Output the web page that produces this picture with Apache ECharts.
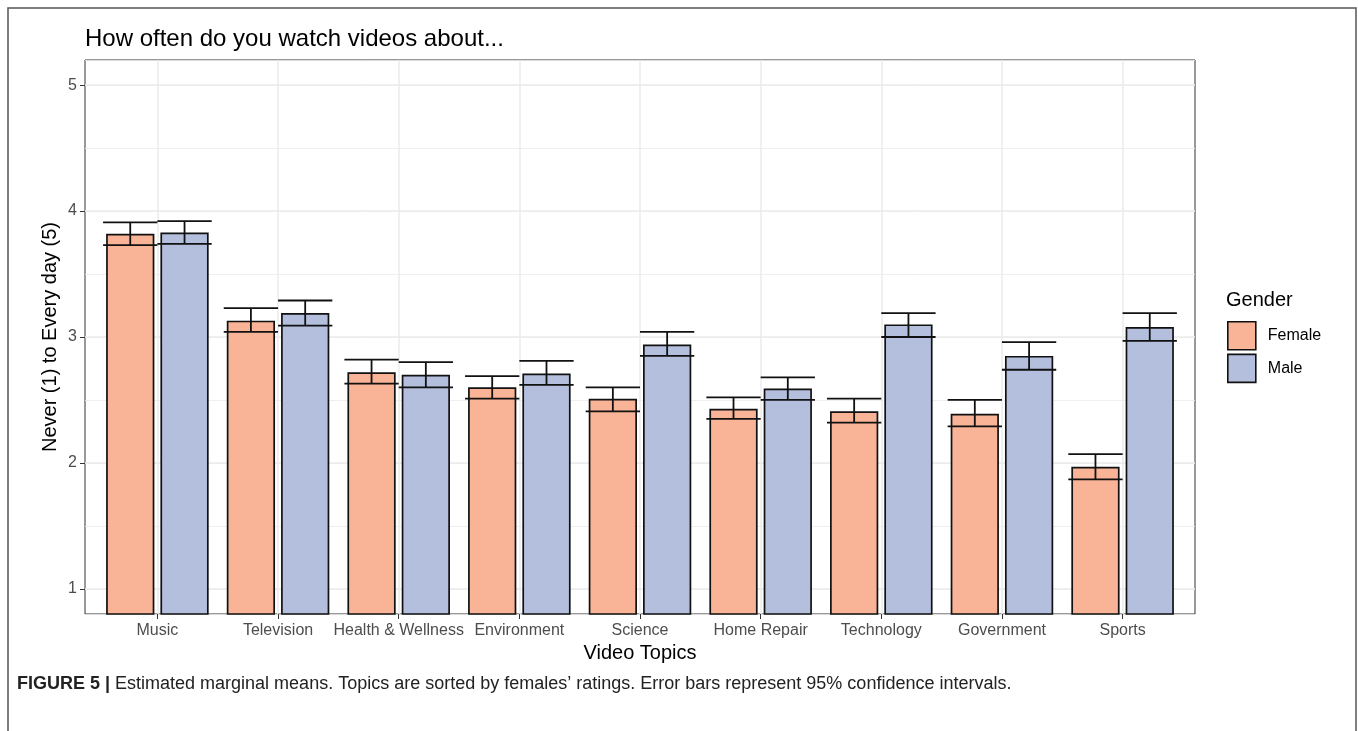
<!DOCTYPE html>
<html>
<head>
<meta charset="utf-8">
<script src="https://cdn.jsdelivr.net/npm/echarts@6/dist/echarts.min.js"></script>
<style>
  html, body { margin: 0; padding: 0; background: #fff; }
  #chart { width: 1358px; height: 731px; }
</style>
</head>
<body>
<div id="chart"></div>
<script>
// Estimated marginal means (1 = Never, 5 = Every day) with 95% CIs, by gender
const topics = ['Music', 'Television', 'Health & Wellness', 'Environment', 'Science',
                'Home Repair', 'Technology', 'Government', 'Sports'];
const femaleMean = [3.82, 3.13, 2.72, 2.60, 2.51, 2.43, 2.41, 2.39, 1.97];
const femaleLow  = [3.73, 3.04, 2.63, 2.51, 2.41, 2.35, 2.32, 2.29, 1.87];
const femaleHigh = [3.91, 3.23, 2.82, 2.69, 2.60, 2.52, 2.51, 2.50, 2.07];
const maleMean   = [3.83, 3.19, 2.70, 2.71, 2.94, 2.59, 3.10, 2.85, 3.08];
const maleLow    = [3.74, 3.09, 2.60, 2.62, 2.85, 2.50, 3.00, 2.74, 2.97];
const maleHigh   = [3.92, 3.29, 2.80, 2.81, 3.04, 2.68, 3.19, 2.96, 3.19];
const yTicks = [1, 2, 3, 4, 5];

const FONT = 'Liberation Sans, Arial, Helvetica, sans-serif';
const FEMALE_FILL = '#F9B396';
const MALE_FILL = '#B3BFDD';

// Panel geometry: discrete axis padded by 0.6 of a category on each side
const panel = { left: 85, top: 60, width: 1110, height: 554 };
const band = panel.width / (topics.length + 0.2);
const barGrid = {
  left: panel.left + 0.1 * band,
  top: panel.top,
  width: band * topics.length,
  height: panel.height
};

// error-bar rows: [category index, low, high, group(0 female / 1 male)]
const errRows = [];
topics.forEach((t, i) => {
  errRows.push([i, femaleLow[i], femaleHigh[i], 0]);
  errRows.push([i, maleLow[i], maleHigh[i], 1]);
});

const chart = echarts.init(document.getElementById('chart'), null, { renderer: 'canvas' });

chart.setOption({
  animation: false,
  backgroundColor: '#ffffff',
  textStyle: { fontFamily: FONT },
  title: [
    {
      text: 'How often do you watch videos about...',
      left: 85, top: 27, padding: 0,
      textStyle: { fontFamily: FONT, fontSize: 24, fontWeight: 'normal', color: '#000' }
    },
    {
      text: 'Gender',
      left: 1226, top: 290, padding: 0,
      textStyle: { fontFamily: FONT, fontSize: 20, fontWeight: 'normal', color: '#000' }
    },
    {
      text: '{b|FIGURE 5 |} Estimated marginal means. Topics are sorted by females\u2019 ratings. Error bars represent 95% confidence intervals.',
      left: 17, top: 675, padding: 0,
      textStyle: {
        fontFamily: FONT, fontSize: 18, fontWeight: 'normal', color: '#222',
        rich: { b: { fontFamily: FONT, fontSize: 18, fontWeight: 'bold', color: '#222' } }
      }
    }
  ],
  legend: {
    orient: 'vertical',
    left: 1227, top: 321, padding: 0,
    itemWidth: 28, itemHeight: 28, itemGap: 3,
    icon: 'rect',
    selectedMode: false,
    textStyle: { fontFamily: FONT, fontSize: 16, color: '#000', padding: [0, 0, 0, 7] },
    data: [
      { name: 'Female', itemStyle: { color: FEMALE_FILL, borderColor: '#111', borderWidth: 1.6 } },
      { name: 'Male', itemStyle: { color: MALE_FILL, borderColor: '#111', borderWidth: 1.6 } }
    ]
  },
  grid: [
    Object.assign({ show: true, backgroundColor: '#fff', borderColor: '#333', borderWidth: 1, containLabel: false }, panel),
    Object.assign({ show: false, containLabel: false }, barGrid)
  ],
  xAxis: [
    { type: 'value', gridIndex: 0, min: 0, max: 1, show: false },
    {
      type: 'category', gridIndex: 1, data: topics, boundaryGap: true,
      name: 'Video Topics', nameLocation: 'middle', nameGap: 28,
      nameTextStyle: { fontFamily: FONT, fontSize: 20, color: '#000' },
      axisLine: { show: false },
      axisTick: { show: true, alignWithLabel: true, length: 5, lineStyle: { color: '#333', width: 1 } },
      axisLabel: { interval: 0, margin: 9, fontFamily: FONT, fontSize: 16, color: '#4D4D4D' },
      splitLine: { show: true, interval: 0, alignWithLabel: true, lineStyle: { color: '#EBEBEB', width: 1.5 } }
    }
  ],
  yAxis: [
    {
      // minor grid lines at half steps
      type: 'value', gridIndex: 0, min: 0.8, max: 5.2, splitNumber: 9, position: 'left',
      axisLine: { show: false }, axisTick: { show: false }, axisLabel: { show: false },
      splitLine: { show: true, lineStyle: { color: '#EBEBEB', width: 0.8 } }
    },
    {
      type: 'value', gridIndex: 0, min: 0.8, max: 5.2, splitNumber: 5, position: 'left',
      name: 'Never (1) to Every day (5)', nameLocation: 'middle', nameGap: 25,
      nameMoveOverlap: false,
      nameTextStyle: { fontFamily: FONT, fontSize: 20, color: '#000' },
      axisLine: { show: false },
      axisTick: { show: true, length: 5, customValues: yTicks, lineStyle: { color: '#333', width: 1 } },
      axisLabel: {
        margin: 8, fontFamily: FONT, fontSize: 16, color: '#4D4D4D', customValues: yTicks,
        formatter: v => (Number.isInteger(v) ? String(v) : '')
      },
      splitLine: { show: true, lineStyle: { color: '#EBEBEB', width: 1.6 } }
    },
    { type: 'value', gridIndex: 1, min: 0.8, max: 5.2, show: false }
  ],
  series: [
    {
      name: 'Female', type: 'bar', xAxisIndex: 1, yAxisIndex: 2,
      data: femaleMean, barWidth: '40%', barGap: '12.5%',
      itemStyle: { color: FEMALE_FILL, borderColor: '#111', borderWidth: 1.7 },
      z: 3
    },
    {
      name: 'Male', type: 'bar', xAxisIndex: 1, yAxisIndex: 2,
      data: maleMean, barWidth: '40%', barGap: '12.5%',
      itemStyle: { color: MALE_FILL, borderColor: '#111', borderWidth: 1.7 },
      z: 3
    },
    {
      name: 'CI', type: 'custom', xAxisIndex: 1, yAxisIndex: 2,
      data: errRows, z: 5,
      encode: { x: 0, y: [1, 2] },
      renderItem: function (params, api) {
        const idx = api.value(0);
        const lo = api.coord([idx, api.value(1)]);
        const hi = api.coord([idx, api.value(2)]);
        const bw = api.size([1, 0])[0];
        const cx = lo[0] + (api.value(3) === 0 ? -1 : 1) * 0.225 * bw;
        const half = 0.225 * bw;
        const style = { stroke: '#111', lineWidth: 1.8, fill: null };
        return {
          type: 'group',
          children: [
            { type: 'line', shape: { x1: cx - half, y1: hi[1], x2: cx + half, y2: hi[1] }, style: style },
            { type: 'line', shape: { x1: cx - half, y1: lo[1], x2: cx + half, y2: lo[1] }, style: style },
            { type: 'line', shape: { x1: cx, y1: lo[1], x2: cx, y2: hi[1] }, style: style }
          ]
        };
      }
    }
  ],
  graphic: [
    {
      type: 'rect', silent: true, z: 10,
      shape: { x: 8, y: 8, width: 1348, height: 740 },
      style: { fill: null, stroke: '#555', lineWidth: 1.5 }
    }
  ]
});
</script>
</body>
</html>
